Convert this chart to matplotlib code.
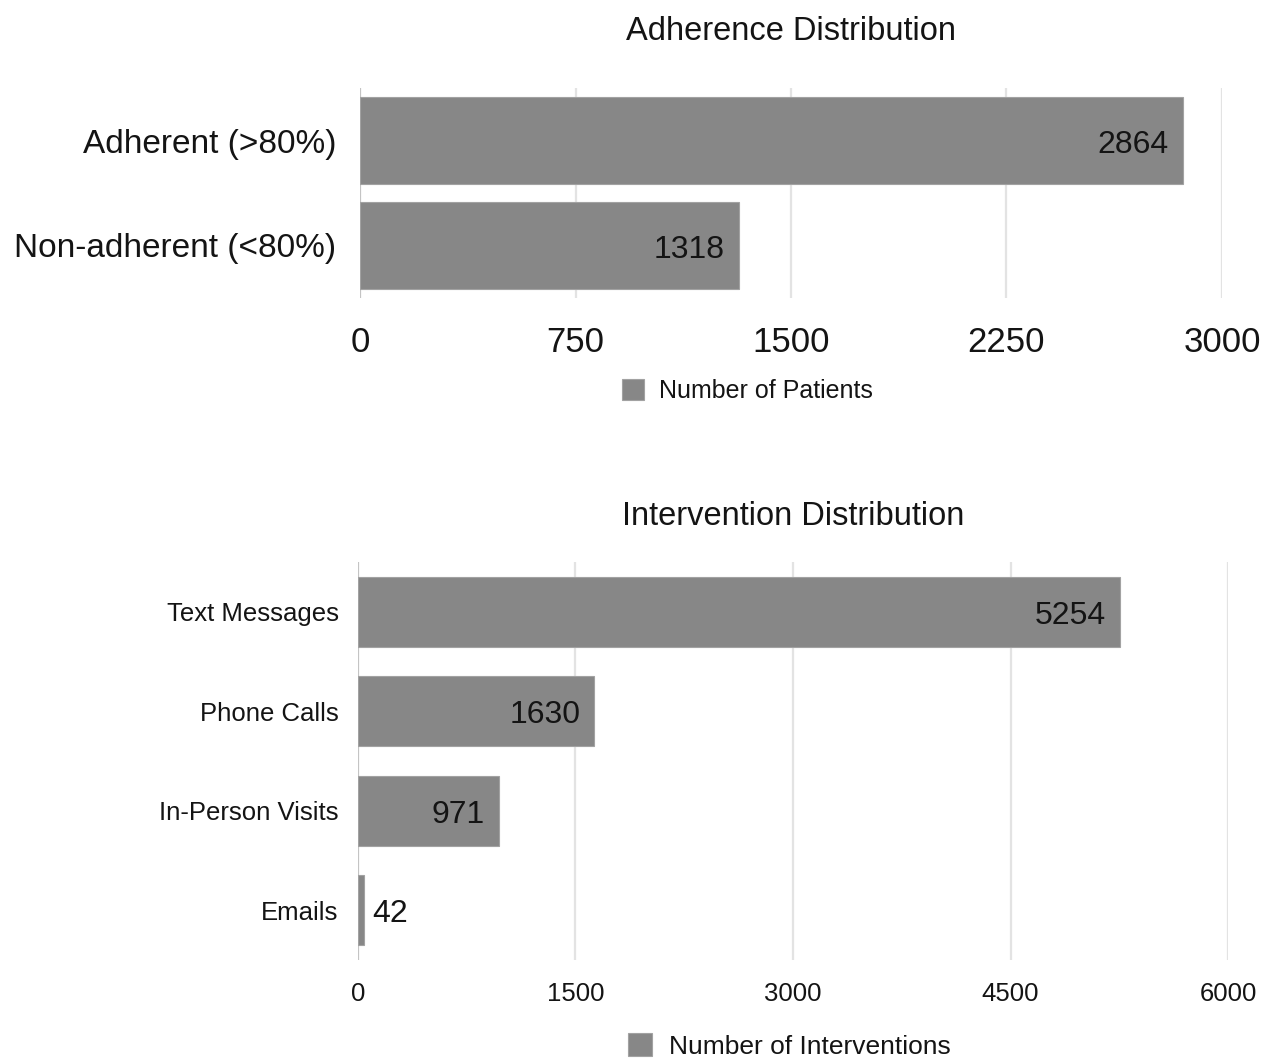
import matplotlib
matplotlib.use("Agg")
import matplotlib.pyplot as plt
from matplotlib.patches import Patch

# Data
adherence_categories = ["Adherent (>80%)", "Non-adherent (<80%)"]
adherence_counts = [2864, 1318]
adherence_ticks = [0, 750, 1500, 2250, 3000]

intervention_categories = ["Text Messages", "Phone Calls", "In-Person Visits", "Emails"]
intervention_counts = [5254, 1630, 971, 42]
intervention_ticks = [0, 1500, 3000, 4500, 6000]

plt.rcParams["font.family"] = ["Liberation Sans", "DejaVu Sans"]

BAR_FACE = "#878787"
BAR_EDGE = "#a2a2a2"
GRID = "#e3e3e3"
ZERO = "#c4c4c4"
TEXT = "#141414"

W, H = 1267, 1059
fig = plt.figure(figsize=(W / 100, H / 100), dpi=100)


def px_box(left, top, right, bottom):
    return [left / W, 1 - bottom / H, (right - left) / W, (bottom - top) / H]


def draw_bars(ax, cats, vals, ticks, bar_h, tick_fs, cat_fs, val_fs, tick_pad, cat_pad):
    pos = list(range(len(cats)))
    ax.barh(pos, vals, height=bar_h, color=BAR_FACE, edgecolor=BAR_EDGE,
            linewidth=0.8, zorder=3)
    ax.set_ylim(len(cats) - 0.5, -0.5)
    ax.set_xlim(ticks[0], ticks[-1])
    ax.set_xticks(ticks)
    ax.set_xticklabels([str(t) for t in ticks], fontsize=tick_fs, color=TEXT)
    ax.set_yticks(pos)
    ax.set_yticklabels(cats, fontsize=cat_fs, color=TEXT)
    ax.tick_params(axis="x", length=0, pad=tick_pad)
    ax.tick_params(axis="y", length=0, pad=cat_pad)
    for s in ax.spines.values():
        s.set_visible(False)
    for t in ticks:
        ax.axvline(t, color=ZERO if t == 0 else GRID, lw=1.6, zorder=1)
    span = ticks[-1] - ticks[0]
    for p, v in zip(pos, vals):
        if v / span > 0.05:
            ax.annotate(str(v), (v, p), xytext=(-10, -3), textcoords="offset points",
                        ha="right", va="center", fontsize=val_fs, color=TEXT, zorder=4)
        else:
            ax.annotate(str(v), (v, p), xytext=(6, -3), textcoords="offset points",
                        ha="left", va="center", fontsize=val_fs, color=TEXT, zorder=4)


# Adherence chart
ax1 = fig.add_axes(px_box(360, 88, 1222, 298))
draw_bars(ax1, adherence_categories, adherence_counts, adherence_ticks, 0.83,
          tick_fs=25, cat_fs=24, val_fs=23, tick_pad=20, cat_pad=17)
fig.text(791 / W, 1 - 31 / H, "Adherence Distribution", ha="center", va="center",
         fontsize=23.5, color=TEXT)
fig.legend(handles=[Patch(facecolor=BAR_FACE, edgecolor=BAR_EDGE, lw=0.8)],
           labels=["Number of Patients"], loc="center left",
           bbox_to_anchor=(622 / W, 1 - 391 / H), frameon=False, fontsize=18,
           handlelength=0.88, handleheight=0.88, handletextpad=0.6,
           borderpad=0, borderaxespad=0, labelcolor=TEXT)

# Intervention chart
ax2 = fig.add_axes(px_box(358, 562, 1228, 960))
draw_bars(ax2, intervention_categories, intervention_counts, intervention_ticks, 0.70,
          tick_fs=18.5, cat_fs=18.5, val_fs=23, tick_pad=16, cat_pad=14)
fig.text(793 / W, 1 - 517 / H, "Intervention Distribution", ha="center", va="center",
         fontsize=23.5, color=TEXT)
fig.legend(handles=[Patch(facecolor=BAR_FACE, edgecolor=BAR_EDGE, lw=0.8)],
           labels=["Number of Interventions"], loc="center left",
           bbox_to_anchor=(628 / W, 1 - 1046 / H), frameon=False, fontsize=19,
           handlelength=0.91, handleheight=0.91, handletextpad=0.64,
           borderpad=0, borderaxespad=0, labelcolor=TEXT)

fig.savefig("out.png", dpi=100, facecolor="white")
